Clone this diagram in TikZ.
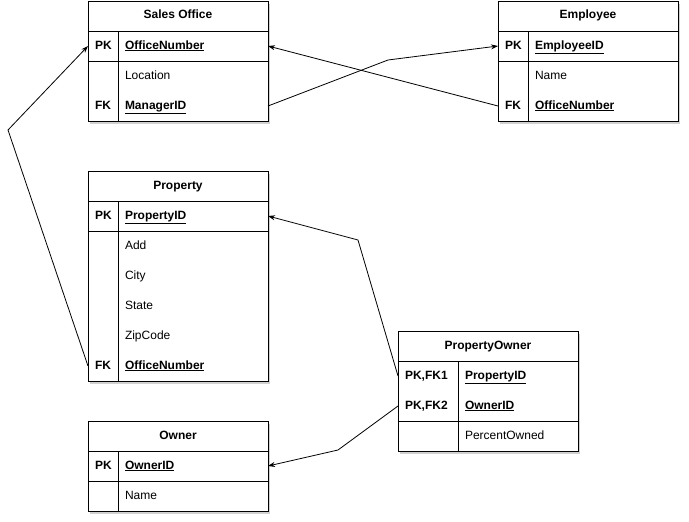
\documentclass[tikz,border=0pt]{standalone}
\usepackage{fontspec}
\setmainfont{Liberation Sans}
\usetikzlibrary{arrows.meta,shadows}
\begin{document}
\begin{tikzpicture}[x=1pt, y=-1pt,
  >={Stealth[length=7pt,width=5pt]}, %
  inner sep=0pt, outer sep=0pt,%
  font=\fontsize{12}{14}\selectfont,
  tbox/.style={draw,line width=1pt,fill=white,minimum width=180pt,
    drop shadow={shadow xshift=2pt,shadow yshift=-3pt,opacity=0.18,fill=black}},
  thead/.style={draw,line width=1pt,minimum width=180pt,minimum height=30pt,text height=9pt,text depth=3pt,font=\fontsize{12}{14}\selectfont\bfseries},
  keyc/.style={minimum height=30pt,text width=#1,text height=9pt,text depth=3pt,inner xsep=7pt,align=left,font=\fontsize{12}{14}\selectfont\bfseries},
  keyc/.default=16pt,
  fldc/.style={minimum height=30pt,text width=136pt,text height=9pt,text depth=3pt,inner xsep=7pt,align=left},
  pkey/.style={fldc,font=\fontsize{12}{14}\selectfont\bfseries},
  sep/.style={line width=1pt},
  fk/.style={line width=0.8pt,->}]

\useasboundingbox (0,0) rectangle (689,522);

% Sales Office
\node[tbox,minimum height=120pt] (soBox) at (178,61) {};
\node[thead] (soHead) at (178,16) {Sales Office};
\node[keyc] (soNumKey) at (103,46) {PK};
\node[pkey] (soNum) at (193,46) {\underline{OfficeNumber}};
\node[keyc] (soLocKey) at (103,76) {};
\node[fldc] (soLoc) at (193,76) {Location};
\node[keyc] (soMgrKey) at (103,106) {FK};
\node[pkey] (soMgr) at (193,106) {\underline{ManagerID}};
\draw[sep] (soNumKey.north east) -- (soMgrKey.south east);
\draw[sep] (soNumKey.south west) -- (soNum.south east);

% Employee
\node[tbox,minimum height=120pt] (emBox) at (588,61) {};
\node[thead] (emHead) at (588,16) {Employee};
\node[keyc] (emIDKey) at (513,46) {PK};
\node[pkey] (emID) at (603,46) {\underline{EmployeeID}};
\node[keyc] (emNameKey) at (513,76) {};
\node[fldc] (emName) at (603,76) {Name};
\node[keyc] (emOffKey) at (513,106) {FK};
\node[pkey] (emOff) at (603,106) {\underline{OfficeNumber}};
\draw[sep] (emIDKey.north east) -- (emOffKey.south east);
\draw[sep] (emIDKey.south west) -- (emID.south east);

% Property
\node[tbox,minimum height=210pt] (prBox) at (178,276) {};
\node[thead] (prHead) at (178,186) {Property};
\node[keyc] (prIDKey) at (103,216) {PK};
\node[pkey] (prID) at (193,216) {\underline{PropertyID}};
\node[fldc] (prAdd) at (193,246) {Add};
\node[fldc] (prCity) at (193,276) {City};
\node[fldc] (prState) at (193,306) {State};
\node[fldc] (prZip) at (193,336) {ZipCode};
\node[keyc] (prOffKey) at (103,366) {FK};
\node[pkey] (prOff) at (193,366) {\underline{OfficeNumber}};
\draw[sep] (prIDKey.north east) -- (prOffKey.south east);
\draw[sep] (prIDKey.south west) -- (prID.south east);

% Owner
\node[tbox,minimum height=90pt] (owBox) at (178,466) {};
\node[thead] (owHead) at (178,436) {Owner};
\node[keyc] (owIDKey) at (103,466) {PK};
\node[pkey] (owID) at (193,466) {\underline{OwnerID}};
\node[keyc] (owNameKey) at (103,496) {};
\node[fldc] (owName) at (193,496) {Name};
\draw[sep] (owIDKey.north east) -- (owNameKey.south east);
\draw[sep] (owIDKey.south west) -- (owID.south east);

% PropertyOwner
\node[tbox,minimum height=120pt] (poBox) at (488,391) {};
\node[thead] (poHead) at (488,346) {PropertyOwner};
\node[keyc=46pt] (poPropKey) at (428,376) {PK,FK1};
\node[pkey,text width=106pt] (poProp) at (518,376) {\underline{PropertyID}};
\node[keyc=46pt] (poOwnKey) at (428,406) {PK,FK2};
\node[pkey,text width=106pt] (poOwn) at (518,406) {\underline{OwnerID}};
\node[keyc=46pt] (poPctKey) at (428,436) {};
\node[fldc,text width=106pt] (poPct) at (518,436) {PercentOwned};
\draw[sep] (poPropKey.north east) -- (poPctKey.south east);
\draw[sep] (poOwnKey.south west) -- (poOwn.south east);

% connectors
\draw[fk] (soMgr.east) -- (388,60) -- (emIDKey.west);
\draw[fk] (emOffKey.west) -- (soNum.east);
\draw[fk] (prOffKey.west) -- (8,130) -- (soNumKey.west);
\draw[fk] (poPropKey.west) -- (358,240) -- (prID.east);
\draw[fk] (poOwnKey.west) -- (338,450) -- (owID.east);

\end{tikzpicture}
\end{document}
